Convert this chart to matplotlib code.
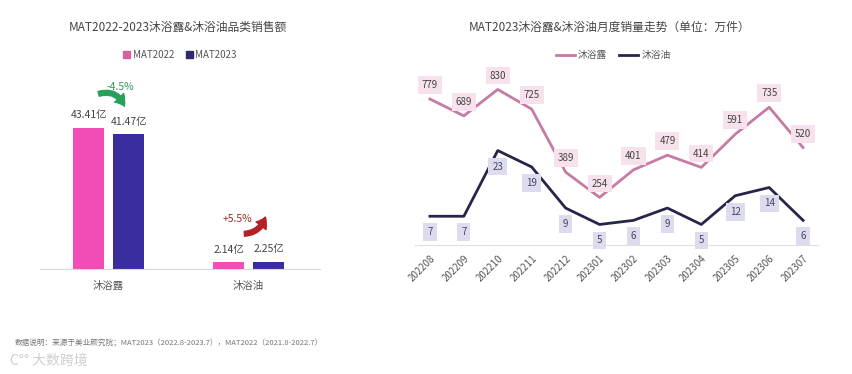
import matplotlib
matplotlib.use("Agg")
import matplotlib.pyplot as plt
from matplotlib.patches import FancyArrowPatch, Patch
from matplotlib.lines import Line2D

plt.rcParams['font.family'] = ['Noto Sans CJK SC', 'DejaVu Sans']

# ---------------- data ----------------
categories = ["沐浴露", "沐浴油"]
mat2022 = [43.41, 2.14]
mat2023 = [41.47, 2.25]
growth_labels = ["-4.5%", "+5.5%"]

months = ["202208", "202209", "202210", "202211", "202212", "202301",
          "202302", "202303", "202304", "202305", "202306", "202307"]
gel_sales = [779, 689, 830, 725, 389, 254, 401, 479, 414, 591, 735, 520]
oil_sales = [7, 7, 23, 19, 9, 5, 6, 9, 5, 12, 14, 6]

W, H = 853, 374
fig = plt.figure(figsize=(W / 100, H / 100), dpi=100)
fig.patch.set_facecolor("white")


def box(x0, y_top, x1, y_bot):
    return [x0 / W, (H - y_bot) / H, (x1 - x0) / W, (y_bot - y_top) / H]


PINK_BAR = "#f24db6"
BLUE_BAR = "#3a2da0"
PINK_LINE = "#c77aa3"
NAVY_LINE = "#27264a"
GRAY = "#555555"

# ---------------- left chart ----------------
ax1 = fig.add_axes(box(40, 70, 320, 269))
x = list(range(len(categories)))
off = 0.143
bw = 0.221
b1 = ax1.bar([i - off for i in x], mat2022, width=bw, color=PINK_BAR)
b2 = ax1.bar([i + off for i in x], mat2023, width=bw, color=BLUE_BAR)
ax1.set_xlim(-0.49, 1.51)
ax1.set_ylim(0, 61.2)
for s in ["top", "right", "left"]:
    ax1.spines[s].set_visible(False)
ax1.spines["bottom"].set_color("#d9d9d9")
ax1.set_yticks([])
ax1.set_xticks(x)
ax1.set_xticklabels(categories, fontsize=7.5, color=GRAY)
ax1.tick_params(axis="x", length=0, pad=9)

for bars, vals in ((b1, mat2022), (b2, mat2023)):
    for r, v in zip(bars, vals):
        ax1.annotate(f"{v:.2f}亿", (r.get_x() + r.get_width() / 2, v),
                     xytext=(0, 9), textcoords="offset points",
                     ha="center", va="center", fontsize=7.5, color="#444444")

# growth annotations
ax1.text(0.081, 56.0, growth_labels[0], ha="center", va="center",
         fontsize=7.5, color="#2e9a55")
ax1.add_patch(FancyArrowPatch((-0.09, 53.6), (0.12, 49.3),
                              connectionstyle="arc3,rad=-0.5",
                              arrowstyle="simple,head_length=7,head_width=9,tail_width=3.5",
                              color="#27a05a", clip_on=False))
ax1.text(0.917, 15.4, growth_labels[1], ha="center", va="center",
         fontsize=7.5, color="#a32a2a")
ax1.add_patch(FancyArrowPatch((0.95, 10.8), (1.125, 16.8),
                              connectionstyle="arc3,rad=0.4",
                              arrowstyle="simple,head_length=7,head_width=9,tail_width=3.5",
                              color="#b52025", clip_on=False))

fig.text(178 / W, 1 - 27 / H, "MAT2022-2023沐浴露&沐浴油品类销售额",
         ha="center", va="center", fontsize=8.5, color="#444444")
fig.legend(handles=[Patch(color="#d9609f", label="MAT2022"),
                    Patch(color="#2e2a6e", label="MAT2023")],
           loc="center", bbox_to_anchor=(180 / W, 1 - 55 / H), ncol=2,
           frameon=False, fontsize=7, handlelength=0.7, handleheight=0.7,
           handletextpad=0.3, columnspacing=1.2, labelcolor="#555555")

# ---------------- right chart ----------------
ax2 = fig.add_axes(box(415, 75, 818, 245))
ax3 = ax2.twinx()
xi = list(range(len(months)))
ax2.plot(xi, gel_sales, color=PINK_LINE, lw=2)
ax3.plot(xi, oil_sales, color=NAVY_LINE, lw=2)
ax2.set_xlim(-0.44, 11.44)
ax2.set_ylim(0, 907)
ax3.set_ylim(0, 41.4)
for a in (ax2, ax3):
    for s in ["top", "right", "left"]:
        a.spines[s].set_visible(False)
    a.set_yticks([])
ax3.spines["bottom"].set_visible(False)
ax2.spines["bottom"].set_color("#e0e0e0")
ax2.set_xticks(xi)
ax2.set_xticklabels(months, rotation=45, ha="right", rotation_mode="anchor",
                    fontsize=7, color=GRAY)
ax2.tick_params(axis="x", length=0, pad=6)

for i, v in enumerate(gel_sales):
    ax2.annotate(str(v), (i, v), xytext=(0, 10), textcoords="offset points",
                 ha="center", va="center", fontsize=7, color="#444444",
                 bbox=dict(boxstyle="square,pad=0.4", fc="#f7e1ec", ec="none"))
for i, v in enumerate(oil_sales):
    ax3.annotate(str(v), (i, v), xytext=(0, -11.5), textcoords="offset points",
                 ha="center", va="center", fontsize=7, color="#444466",
                 bbox=dict(boxstyle="square,pad=0.4", fc="#dcdcee", ec="none"))

fig.text(610 / W, 1 - 27 / H, "MAT2023沐浴露&沐浴油月度销量走势（单位：万件）",
         ha="center", va="center", fontsize=8.5, color="#444444")
fig.legend(handles=[Line2D([], [], color=PINK_LINE, lw=2, label="沐浴露"),
                    Line2D([], [], color=NAVY_LINE, lw=2, label="沐浴油")],
           loc="center", bbox_to_anchor=(613 / W, 1 - 55 / H), ncol=2,
           frameon=False, fontsize=7, handlelength=2.0,
           handletextpad=0.3, columnspacing=1.2, labelcolor="#555555")

# ---------------- footnote ----------------
fig.text(15 / W, 1 - 343 / H,
         "数据说明：来源于美业颜究院；MAT2023（2022.8-2023.7），MAT2022（2021.8-2022.7）",
         ha="left", va="center", fontsize=5.5, color="#777777")
fig.text(10 / W, 1 - 361 / H, "C°° 大数跨境", ha="left", va="center",
         fontsize=10, color="#cfcfcf")

fig.savefig("out.png", dpi=100, facecolor="white")
